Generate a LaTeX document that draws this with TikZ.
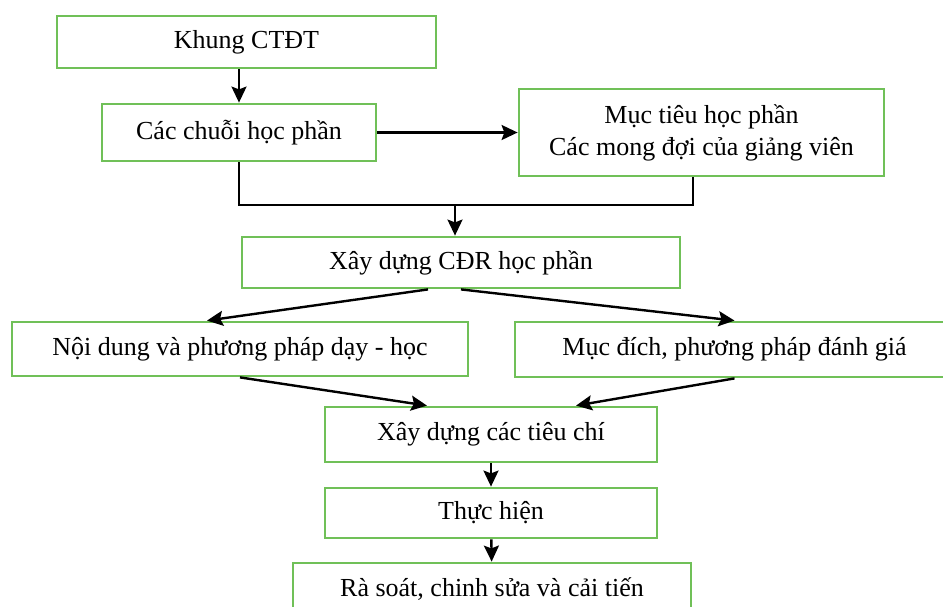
\documentclass[tikz,border=0pt]{standalone}
\usepackage{fontspec}
\setmainfont{Liberation Serif}
\usetikzlibrary{arrows.meta}

\definecolor{boxgreen}{RGB}{112,192,88}

\tikzset{
    box/.style={draw=boxgreen, line width=1.4pt, fill=white, inner sep=0pt,
        align=center, font=\fontsize{13}{16}\selectfont},
    link/.style={line width=1.2pt, -{Stealth[length=8pt,width=7.5pt,inset=1.4pt]}},
    line/.style={line width=1.2pt}
}

\begin{document}
\begin{tikzpicture}[x=0.5pt, y=-0.5pt]

\useasboundingbox (0,0) rectangle (943,606);
\clip (0,0) rectangle (943,606);

\node[box, minimum width=189.5pt, minimum height=26pt] (ctdt) at (246.5,42) {Khung CTĐT};
\node[box, minimum width=137pt, minimum height=28.5pt] (chuoi) at (239,132.5) {Các chuỗi học phần};
\node[box, minimum width=182.5pt, minimum height=43.5pt] (muctieu) at (701.5,132.5)
    {Mục tiêu học phần\\Các mong đợi của giảng viên};
\node[box, minimum width=219pt, minimum height=25.5pt] (cdr) at (461,262.5) {Xây dựng CĐR học phần};
\node[box, minimum width=228pt, minimum height=27pt] (noidung) at (240,349) {Nội dung và phương pháp dạy - học};
\node[box, minimum width=219.5pt, minimum height=27.5pt] (mucdich) at (734.5,349.5) {Mục đích, phương pháp đánh giá};
\node[box, minimum width=166pt, minimum height=27.5pt] (tieuchi) at (491,434.5) {Xây dựng các tiêu chí};
\node[box, minimum width=166pt, minimum height=25pt] (thuchien) at (491,513) {Thực hiện};
\node[box, minimum width=199pt, minimum height=26pt] (rasoat) at (492,589) {Rà soát, chinh sửa và cải tiến};

\coordinate (merge) at (455,205);

% top part
\draw[link] (chuoi.north |- ctdt.south) -- (chuoi.north);
\draw[link] (chuoi) -- (muctieu);
\draw[line] (chuoi.south) |- (merge) -| ([xshift=-4.25pt]muctieu.south);
\draw[link] (merge) -- (cdr.north -| merge);

% split and join
\draw[link] ([xshift=-16.5pt]cdr.south) -- ([xshift=-16.5pt]noidung.north);
\draw[link] (cdr.south) -- (mucdich.north);
\draw[link] (noidung.south) -- ([xshift=-32pt]tieuchi.north);
\draw[link] (mucdich.south) -- ([xshift=42.5pt]tieuchi.north);

\draw[link] (tieuchi) -- (thuchien);
\draw[link] (thuchien) -- (rasoat);

\end{tikzpicture}
\end{document}
